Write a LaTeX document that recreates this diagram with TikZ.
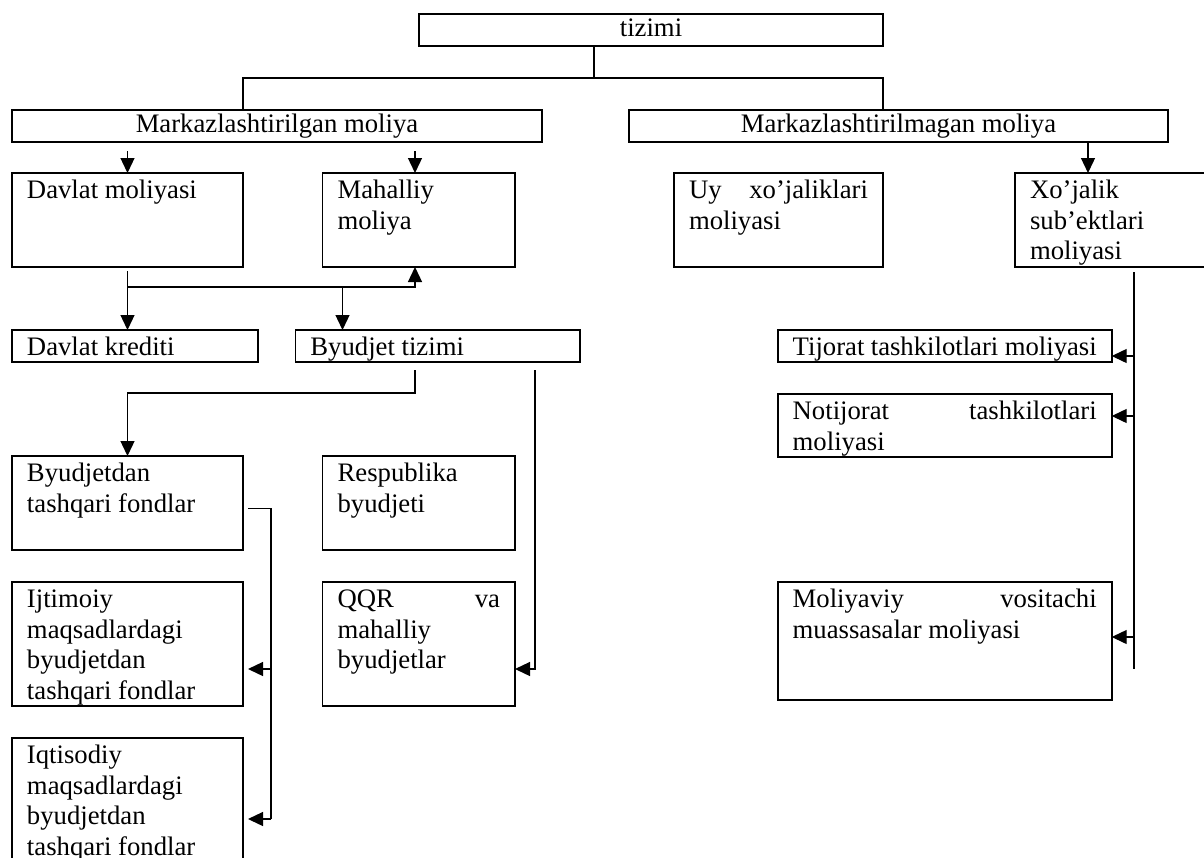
\documentclass[tikz,border=0pt]{standalone}
\usepackage{fontspec}
\setmainfont{Liberation Serif}
\usetikzlibrary{arrows.meta}
\newcommand\fsz{\fontsize{26.7pt}{30.6pt}\selectfont}
\newcommand\jl[1]{\makebox[\linewidth][s]{#1}}
\newcommand\pb[3]{\parbox[t][#2][t]{#1}{\raggedright\strut #3}}
\tikzset{
  bx/.style={draw, line width=1.6pt, inner xsep=15pt, inner ysep=4pt, outer sep=0pt, anchor=north west, font=\fsz},
  tb/.style={draw, line width=1.6pt, inner sep=0pt, outer sep=0pt, font=\fsz, text height=18pt, text depth=6pt},
  ln/.style={line width=1.3pt},
  arr/.style={line width=1.3pt, -{Triangle[length=15pt,width=14pt]}}
}
\begin{document}
\begin{tikzpicture}[x=1pt,y=-1pt]
\path[use as bounding box, clip] (0,0) rectangle (1204,857);
\fill[white] (0,0) rectangle (1204,857);
% top boxes
\node[tb, minimum width=464pt, minimum height=32pt] (t) at (651,30) {tizimi};
\node[tb, minimum width=530pt, minimum height=32pt] (ml) at (277,126) {Markazlashtirilgan moliya};
\node[tb, minimum width=539pt, minimum height=32pt] (mr) at (898.5,126) {Markazlashtirilmagan moliya};
% second row
\node[bx] (dm) at (12,173) {\pb{201pt}{86pt}{Davlat moliyasi}};
\node[bx] (mm) at (322.6,173) {\pb{162.4pt}{86pt}{Mahalliy\\moliya}};
\node[bx] (uy) at (674,173) {\pb{179pt}{86pt}{\jl{Uy xo’jaliklari}\\moliyasi}};
\node[bx] (xs) at (1015,173) {\pb{170pt}{86pt}{Xo’jalik\\sub’ektlari\\moliyasi}};
% third row
\node[bx] (dk) at (12,330) {\pb{216pt}{24pt}{Davlat krediti}};
\node[bx] (bt) at (295.4,330) {\pb{254.6pt}{24pt}{Byudjet tizimi}};
\node[bx] (tj) at (777.7,330) {\pb{304pt}{24pt}{\jl{Tijorat tashkilotlari moliyasi}}};
\node[bx] (nt) at (777.7,394) {\pb{304pt}{54.7pt}{\jl{Notijorat tashkilotlari}\\moliyasi}};
% fourth row
\node[bx] (bf) at (12,456) {\pb{201pt}{86pt}{Byudjetdan\\tashqari fondlar}};
\node[bx] (rb) at (322.6,456) {\pb{162.4pt}{86pt}{Respublika\\byudjeti}};
% fifth row
\node[bx] (ij) at (12,582) {\pb{201pt}{116pt}{Ijtimoiy\\maqsadlardagi\\byudjetdan\\tashqari fondlar}};
\node[bx] (qq) at (322.6,582) {\pb{162.4pt}{116pt}{\jl{QQR va}\\mahalliy\\byudjetlar}};
\node[bx] (mv) at (777.7,582) {\pb{304pt}{110pt}{\jl{Moliyaviy vositachi}\\muassasalar moliyasi}};
% sixth row
\node[bx] (iq) at (12,738) {\pb{201pt}{132pt}{Iqtisodiy\\maqsadlardagi\\byudjetdan\\tashqari fondlar}};
% connectors
\coordinate (xa) at (243,78);
\coordinate (xb) at (883,78);
\coordinate (xc) at (594,78);
\draw[ln] (t.south -| xc) -- (xc);
\draw[ln] (ml.north -| xa) -- (xa) -- (xb) -- (mr.north -| xb);
\draw[arr] ([yshift=22pt]dm.north) -- (dm.north);
\coordinate (mmx) at (415,151);
\draw[arr] (mmx) -- (mmx |- mm.north);
\coordinate (xsx) at (1088,142);
\draw[arr] (mr.south -| xsx) -- (xs.north -| xsx);
\coordinate (d1) at (127.5,271);
\coordinate (h2) at (415,287);
\coordinate (h3) at (342.5,287);
\draw[arr] (d1) -- (d1 |- dk.north);
\draw[arr] (d1 |- h2) -- (h2) -- (h2 |- mm.south);
\draw[arr] (h3) -- (h3 |- bt.north);
\coordinate (b1) at (415,370);
\coordinate (b2) at (127.5,393);
\draw[arr] (b1) |- (b2) -- (b2 |- bf.north);
\coordinate (c1) at (535,370);
\coordinate (c2) at (535,669);
\draw[arr] (c1) -- (c2) -- (c2 -| qq.east);
\coordinate (e1) at (248,508.5);
\coordinate (e2) at (271,508.5);
\coordinate (e3) at (271,669);
\coordinate (e4) at (271,819);
\draw[ln] (e1) -- (e2) -- (e4);
\draw[arr] (e3) -- (e3 -| e1);
\draw[arr] (e4) -- (e4 -| e1);
\coordinate (r1) at (1134,272);
\coordinate (r2) at (1134,669);
\coordinate (r3) at (1134,356);
\coordinate (r4) at (1134,416);
\coordinate (r5) at (1134,637);
\draw[ln] (r1) -- (r2);
\draw[arr] (r3) -- (r3 -| tj.east);
\draw[arr] (r4) -- (r4 -| nt.east);
\draw[arr] (r5) -- (r5 -| mv.east);
\end{tikzpicture}
\end{document}
